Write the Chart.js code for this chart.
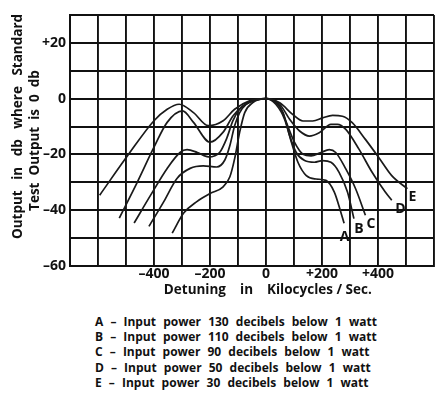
<!DOCTYPE html>
<html>
<head>
<meta charset="utf-8">
<script src="https://cdn.jsdelivr.net/npm/chart.js@4"></script>
<style>
  body { margin:0; background:#fff; width:435px; height:394px; overflow:hidden; position:relative; }
  #wrap { position:absolute; left:0; top:0; width:435px; height:300px; }
  #legend { position:absolute; left:95px; top:314px; font-family:"Open Sans"; font-weight:700; font-size:12px; line-height:15.2px; color:#111; word-spacing:4px; white-space:nowrap; }
</style>
</head>
<body>
<div id="wrap"><canvas id="myChart"></canvas></div>
<div id="legend"></div>
<script>
// detuning in kc/s and output in db
const curveNames = ['A', 'B', 'C', 'D', 'E'];

const xA = [-335, -294, -247, -200, -153, -129, -112, -94, -76, -47, 0, 35, 67, 91, 114, 144, 179, 214, 244, 267, 279];
const yA = [-48.2, -41, -36.9, -34, -31.6, -28, -21.5, -12, -5, -1.4, 0, -2, -7.5, -15.7, -22.8, -27.6, -28.8, -29.3, -33.5, -40.6, -44.7];

const xB = [-418, -365, -318, -271, -224, -176, -147, -129, -112, -94, -71, -35, 0, 35, 61, 85, 108, 138, 173, 202, 232, 261, 291, 314];
const yB = [-45.8, -36.9, -28.6, -25, -24.1, -24.5, -22, -16.8, -9.7, -5, -2, -0.4, 0, -1.5, -5, -13.4, -19.3, -22.2, -22.8, -22.2, -22.8, -26.4, -33.5, -43];

const xC = [-471, -412, -353, -306, -282, -247, -206, -165, -141, -118, -94, -50, 0, 49, 73, 102, 132, 161, 196, 226, 249, 285, 320, 355];
const yC = [-44.6, -34.6, -25, -19.2, -18.3, -19.2, -20.9, -19.2, -14.4, -7.9, -3.8, -0.8, 0, -2.7, -8.6, -15.7, -19.9, -20.5, -19.3, -18.3, -19.3, -25.2, -32.3, -41.8];

const xD = [-524, -459, -400, -353, -298, -259, -200, -153, -118, -82, -40, 0, 49, 85, 120, 155, 190, 232, 255, 285, 332, 379, 426, 449];
const yD = [-42.8, -29.8, -17.4, -8.5, -4.4, -8.5, -15.6, -12, -6.2, -2.6, -0.6, 0, -2, -7.5, -11.6, -13.4, -12.2, -9.2, -9.2, -11, -18.1, -26.4, -33.5, -36.4];

const xE = [-594, -494, -400, -353, -310, -259, -206, -153, -112, -59, 0, 49, 96, 132, 167, 202, 238, 273, 308, 355, 402, 449, 505];
const yE = [-34.6, -20.4, -7.9, -3.8, -2, -5, -9.7, -7.9, -3.8, -0.8, 0, -1.5, -5.7, -8, -8, -6.9, -6, -6.3, -8.6, -14.6, -21, -27.6, -32.3];

// where the curve letters sit
const labelX = [281, 332, 375, 480, 523];
const labelY = [-49.5, -46.6, -44.9, -39.6, -35.3];

const yTickText = { '20': '+20', '0': '0', '-20': '–20', '-40': '–40', '-60': '–60' };
const xTickText = { '-400': '–400', '-200': '–200', '0': '0', '200': '+200', '400': '+400' };

const legendLines = [
    'A – Input power 130 decibels below 1 watt',
    'B – Input power 110 decibels below 1 watt',
    'C – Input power 90 decibels below 1 watt',
    'D – Input power 50 decibels below 1 watt',
    'E – Input power 30 decibels below 1 watt'
];

const xs = [xA, xB, xC, xD, xE];
const ys = [yA, yB, yC, yD, yE];

const datasets = curveNames.map((n, i) => ({
    label: n,
    data: xs[i].map((x, j) => ({ x: x, y: ys[i][j] })),
    borderColor: '#1a1a1a',
    borderWidth: 1.7,
    pointRadius: 0,
    fill: false,
    cubicInterpolationMode: 'monotone'
}));

const FONT = '"Open Sans"';

const letterPlugin = {
    id: 'letters',
    afterDatasetsDraw(chart) {
        const c = chart.ctx;
        const sx = chart.scales.x, sy = chart.scales.y;
        c.save();
        c.fillStyle = '#111';
        c.font = 'bold 14px ' + FONT;
        c.textAlign = 'center';
        c.textBaseline = 'middle';
        curveNames.forEach((n, i) => {
            c.fillText(n, sx.getPixelForValue(labelX[i]), sy.getPixelForValue(labelY[i]));
        });
        c.restore();
    }
};

const ctx = document.getElementById('myChart').getContext('2d');

let chart = new Chart(ctx, {
    type: 'line',
    data: { datasets: datasets },
    plugins: [letterPlugin],
    options: {
        responsive: true,
        maintainAspectRatio: false,
        animation: false,
        layout: { padding: { top: 15, right: 1, left: 0, bottom: 0 } },
        plugins: { legend: { display: false }, tooltip: { enabled: false } },
        scales: {
            x: {
                type: 'linear',
                min: -700,
                max: 600,
                afterFit: s => { s.height = 34; },
                afterBuildTicks: s => {
                    s.ticks = [];
                    for (let v = -700; v <= 600; v += 100) s.ticks.push({ value: v });
                },
                grid: { color: '#111', lineWidth: 1.9, drawTicks: false },
                border: { color: '#111', width: 2 },
                ticks: {
                    padding: 0,
                    color: '#111',
                    font: { family: FONT, weight: 'bold', size: 14 },
                    maxRotation: 0,
                    autoSkip: false,
                    callback: v => xTickText[String(v)] || ''
                },
                title: {
                    display: true,
                    text: '         Detuning    in    Kilocycles / Sec.',
                    color: '#111',
                    font: { family: FONT, weight: 'bold', size: 13.5 },
                    padding: { top: 0, bottom: 2 }
                }
            },
            y: {
                min: -60,
                max: 30,
                afterFit: s => { s.width = 70; },
                afterBuildTicks: s => {
                    s.ticks = [];
                    for (let v = -60; v <= 30; v += 10) s.ticks.push({ value: v });
                },
                grid: { color: '#111', lineWidth: 1.9, drawTicks: false },
                border: { color: '#111', width: 2 },
                ticks: {
                    padding: 4,
                    color: '#111',
                    font: { family: FONT, weight: 'bold', size: 14 },
                    autoSkip: false,
                    callback: v => yTickText[String(v)] || ''
                },
                title: {
                    display: true,
                    text: ['        Output   in   db   where   Standard', 'Test  Output  is  0  db'],
                    color: '#111',
                    font: { family: FONT, weight: 'bold', size: 13.5, lineHeight: 1.3 },
                    padding: { top: 9, bottom: 0 }
                }
            }
        }
    }
});

document.getElementById('legend').innerHTML = legendLines.map(t => '<div>' + t + '</div>').join('');
</script>
</body>
</html>
